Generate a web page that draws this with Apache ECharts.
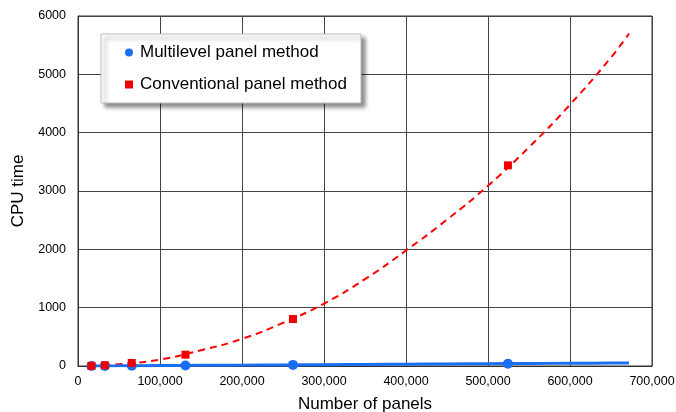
<!DOCTYPE html>
<html>
<head>
<meta charset="utf-8">
<script src="https://cdn.jsdelivr.net/npm/echarts@6/dist/echarts.min.js"></script>
<style>
  html, body { margin: 0; padding: 0; background: #fff; }
</style>
</head>
<body>
<div id="chart" style="width: 676px;height:412px;"></div>
<script>
// measured points
var panels = [16384, 32768, 65536, 131072, 262144, 524288]
var multilevelTime = [1, 2, 4, 9, 19, 40]
var conventionalTime = [3, 12, 52, 194, 805, 3440]

// trend lines
var trendX = [16384, 50000, 100000, 150000, 200000, 250000, 300000, 350000, 400000, 450000, 500000, 550000, 600000, 650000, 672000]
var conventionalTrend = [0, 30, 110, 270, 465, 740, 1070, 1490, 1980, 2510, 3090, 3750, 4480, 5290, 5700]
var multilevelTrend = [1, 3, 7, 11, 15, 19, 23, 27, 31, 35, 39, 43, 47, 51, 52]

var xTicks = [0, 100000, 200000, 300000, 400000, 500000, 600000, 700000]
var yTicks = [0, 1000, 2000, 3000, 4000, 5000, 6000]

var FONT = 'Liberation Sans, Arial, sans-serif'

function pairs (xs, ys) {
  return xs.map(function (x, i) { return [x, ys[i]] })
}

var chart = echarts.init(document.getElementById('chart'))
chart.setOption({
  animation: false,
  textStyle: { fontFamily: FONT },
  grid: {
    left: 78,
    right: 24,
    top: 16,
    bottom: 46,
    outerBoundsMode: 'none',
    containLabel: false,
    show: true,
    borderColor: '#333',
    borderWidth: 1
  },
  legend: {
    orient: 'vertical',
    left: 101,
    top: 34,
    width: 265,
    padding: [10, 14, 10, 24],
    itemGap: 15,
    itemWidth: 8,
    itemHeight: 8,
    backgroundColor: '#fff',
    borderColor: '#bbb',
    borderWidth: 1,
    shadowColor: 'rgba(0,0,0,0.45)',
    shadowBlur: 4,
    shadowOffsetX: 4,
    shadowOffsetY: 4,
    textStyle: { fontSize: 17, color: '#000', fontFamily: FONT, padding: [0, 0, 0, 2] },
    data: [
      { name: 'Multilevel panel method', icon: 'circle' },
      { name: 'Conventional panel method', icon: 'rect' }
    ]
  },
  xAxis: {
    type: 'value',
    min: xTicks[0],
    max: xTicks[xTicks.length - 1],
    interval: 100000,
    name: 'Number of panels',
    nameLocation: 'middle',
    nameGap: 30,
    nameTextStyle: { fontSize: 17, color: '#000', fontFamily: FONT },
    axisLine: { show: true, lineStyle: { color: '#333', width: 1 } },
    axisTick: { show: false },
    splitLine: { show: true, lineStyle: { color: '#444', width: 1 } },
    axisLabel: {
      color: '#000',
      fontSize: 12.5,
      margin: 9,
      formatter: function (v) { return v === 0 ? '0' : v.toLocaleString('en-US') }
    }
  },
  yAxis: {
    type: 'value',
    min: yTicks[0],
    max: yTicks[yTicks.length - 1],
    interval: 1000,
    name: 'CPU time',
    nameLocation: 'middle',
    nameGap: 45,
    nameTextStyle: { fontSize: 17, color: '#000', fontFamily: FONT },
    axisLine: { show: true, lineStyle: { color: '#333', width: 1 } },
    axisTick: { show: false },
    splitLine: { show: true, lineStyle: { color: '#444', width: 1 } },
    axisLabel: {
      color: '#000',
      fontSize: 12.5,
      margin: 12,
      formatter: function (v) { return String(v) }
    }
  },
  series: [
    {
      name: 'conv trend',
      type: 'line',
      smooth: true,
      symbol: 'none',
      silent: true,
      lineStyle: { color: '#ff0000', width: 2, type: [7, 5] },
      data: pairs(trendX, conventionalTrend),
      z: 3
    },
    {
      name: 'multi trend',
      type: 'line',
      smooth: true,
      symbol: 'none',
      silent: true,
      lineStyle: { color: '#1a6ff0', width: 3 },
      data: pairs(trendX, multilevelTrend),
      z: 3
    },
    {
      name: 'Multilevel panel method',
      type: 'scatter',
      symbol: 'circle',
      symbolSize: 10,
      itemStyle: { color: '#1a6ff0', opacity: 1 },
      data: pairs(panels, multilevelTime),
      z: 5
    },
    {
      name: 'Conventional panel method',
      type: 'scatter',
      symbol: 'rect',
      symbolSize: 8,
      itemStyle: { color: '#ee0000', opacity: 1 },
      data: pairs(panels, conventionalTime),
      z: 6
    }
  ]
})
</script>
</body>
</html>
